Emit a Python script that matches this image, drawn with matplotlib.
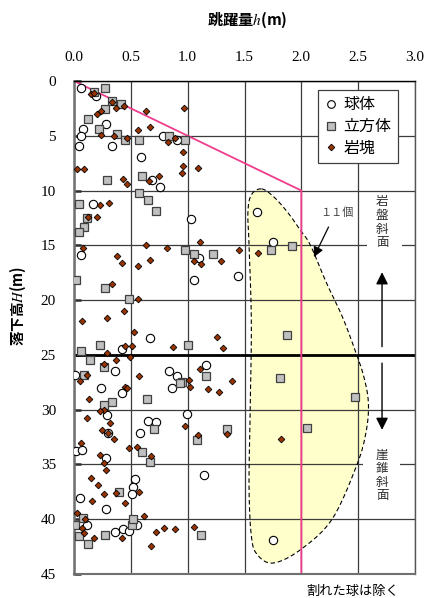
import numpy as np
import matplotlib
matplotlib.use('Agg')
import matplotlib.pyplot as plt
from matplotlib.lines import Line2D
from matplotlib.patches import Polygon, Rectangle

plt.rcParams['font.family'] = ['Liberation Serif', 'Noto Sans CJK JP']
plt.rcParams['mathtext.fontset'] = 'stix'
CJK = ['Noto Sans CJK JP', 'Liberation Serif']

# ---------------- data ----------------
sphere_h = [0.06, 0.19, 0.28, 0.08, 0.06, 0.04, 0.33, 0.59, 0.78, 0.91, 0.69, 0.76, 0.17,
            1.03, 1.10, 1.06, 1.44, 1.61, 1.75, 1.75, 1.16, 0.99, 1.14,
            0.06, 0.67, 0.42, 0.36, 0.01, 0.84, 0.91, 0.86, 0.24, 0.42, 0.29, 0.65, 0.72,
            0.58, 0.30, 0.02, 0.07, 0.28, 0.54, 0.52, 0.51, 0.05, 0.28, 0.11, 0.36, 0.43,
            0.48, 0.55]
sphere_H = [0.6, 1.4, 3.9, 4.4, 5.0, 5.9, 5.9, 6.9, 5.0, 5.4, 9.0, 9.7, 11.2,
            12.6, 16.2, 18.2, 17.8, 12.0, 14.7, 41.9, 25.9, 30.4, 36.0,
            15.9, 23.5, 24.5, 26.5, 26.8, 26.5, 26.9, 28.0, 28.0, 28.5, 30.5, 31.0, 31.1,
            32.1, 32.1, 33.8, 33.7, 34.4, 36.3, 37.1, 37.7, 38.1, 39.1, 40.5, 41.2, 40.9,
            41.1, 40.5]

cube_h = [0.27, 0.18, 0.33, 0.41, 0.27, 0.12, 0.22, 0.38, 0.45, 0.57, 0.84, 0.98, 0.29,
          0.60, 0.57, 0.65, 0.04, 0.72, 0.11, 0.09, 0.04, 0.02, 0.27, 0.48,
          0.98, 1.06, 1.22, 1.73, 1.92, 1.87, 1.81, 2.05, 2.47,
          1.00, 1.16, 0.95, 1.08, 1.35, 1.12,
          0.06, 0.23, 0.14, 0.26, 0.09, 0.93, 0.64, 0.33, 0.26, 0.70, 0.60, 0.67, 0.40,
          0.08, 0.01, 0.04, 0.12, 0.27, 0.51, 0.52]
cube_H = [0.6, 1.0, 1.8, 2.1, 2.6, 3.5, 4.4, 4.8, 5.4, 5.4, 5.0, 5.4, 9.0,
          8.7, 10.2, 10.9, 11.2, 11.9, 12.5, 13.3, 13.8, 18.2, 18.9, 19.9,
          15.4, 15.8, 15.8, 15.4, 15.1, 23.2, 27.1, 31.7, 28.8,
          24.1, 26.9, 27.5, 32.8, 31.8, 41.4,
          24.6, 24.1, 25.5, 26.1, 26.8, 27.6, 29.0, 29.3, 29.6, 31.8, 33.9, 34.8, 37.5,
          39.9, 40.5, 41.5, 42.3, 41.4, 40.5, 40.0]

rock_h = [0.15, 0.18, 0.33, 0.37, 0.44, 0.24, 0.20, 0.63, 0.97, 0.56, 0.67, 0.24, 0.35,
          0.47, 0.83, 0.89, 0.96, 0.96, 0.95, 1.09, 0.03, 0.09, 0.43, 0.47, 0.66, 0.75,
          0.23, 0.31,
          1.11, 1.06, 1.12, 1.29, 1.45, 1.62, 1.82, 1.26, 1.31, 1.11, 1.01, 1.02, 1.18,
          1.28, 1.39, 0.98, 1.09, 1.35, 1.06,
          0.12, 0.20, 0.08, 0.38, 0.42, 0.56, 0.63, 0.67, 0.82, 0.33, 0.56, 0.44, 0.29, 0.07,
          0.53, 0.29, 0.45, 0.51, 0.49, 0.87, 0.26, 0.37, 0.11, 0.05, 0.57, 0.45, 0.47,
          0.13, 0.26, 0.23, 0.11, 0.32, 0.25, 0.30, 0.35, 0.06, 0.48, 0.55, 0.23, 0.26,
          0.28, 0.68, 0.15, 0.21, 0.57, 0.37, 0.26, 0.16, 0.45, 0.03, 0.10, 0.07, 0.09,
          0.18, 0.42, 0.62, 0.72, 0.79, 0.89, 0.68]
rock_H = [1.2, 1.1, 1.9, 2.5, 2.3, 2.7, 3.0, 2.7, 2.5, 4.5, 4.2, 4.9, 5.0,
          5.2, 5.6, 5.2, 6.5, 7.8, 8.4, 7.9, 8.0, 8.0, 8.9, 9.4, 9.1, 8.7,
          11.3, 11.1,
          14.7, 16.4, 16.7, 16.4, 15.4, 15.7, 32.7, 23.4, 24.4, 26.3, 27.3, 27.9, 28.1,
          28.4, 27.4, 31.5, 32.3, 32.2, 40.7,
          12.4, 12.4, 15.2, 16.0, 16.6, 16.9, 15.0, 16.3, 15.2, 18.5, 19.9, 21.0, 21.6, 21.9,
          22.9, 24.8, 24.2, 24.2, 25.2, 24.3, 25.8, 25.5, 26.8, 27.4, 26.9, 27.9, 28.0,
          29.0, 30.0, 30.1, 30.8, 31.2, 31.9, 32.1, 32.7, 33.0, 33.5, 33.4, 34.1, 34.9,
          35.5, 34.2, 36.2, 36.9, 37.5, 37.6, 37.7, 38.3, 38.5, 39.4, 40.0, 40.8, 41.3,
          41.7, 41.7, 39.7, 41.2, 40.8, 40.9, 42.4]

# envelope line (design curve)
envelope_h = [0.0, 2.0, 2.0]
envelope_H = [0.0, 10.0, 45.0]

# outline of the highlighted region (11 items)
region_h = [1.65, 1.76, 1.88, 1.99, 2.08, 2.22, 2.36, 2.47, 2.55, 2.59, 2.57, 2.49, 2.27,
            1.99, 1.75, 1.61, 1.56, 1.54, 1.55, 1.56, 1.54, 1.53, 1.56]
region_H = [9.85, 10.6, 12.0, 13.6, 15.0, 18.4, 21.5, 24.5, 27.0, 29.4, 32.0, 35.0, 40.0,
            42.8, 44.0, 43.2, 41.5, 37.0, 30.0, 22.0, 15.0, 12.0, 10.4]

xticks = [0.0, 0.5, 1.0, 1.5, 2.0, 2.5, 3.0]
yticks = [0, 5, 10, 15, 20, 25, 30, 35, 40, 45]
legend_labels = ['球体', '立方体', '岩塊']


def closed_spline(xs, ys, n=24):
    P = np.column_stack([xs, ys])
    N = len(P)
    t = np.linspace(0, 1, n, endpoint=False)[:, None]
    out = []
    for i in range(N):
        p0, p1, p2, p3 = P[(i - 1) % N], P[i], P[(i + 1) % N], P[(i + 2) % N]
        out.append(0.5 * (2 * p1 + (-p0 + p2) * t + (2 * p0 - 5 * p1 + 4 * p2 - p3) * t ** 2
                          + (-p0 + 3 * p1 - 3 * p2 + p3) * t ** 3))
    return np.vstack(out)


fig = plt.figure(figsize=(4.24, 5.98), dpi=100)
ax = fig.add_axes([74 / 424, 1 - 574 / 598, 341 / 424, 493 / 598])
ax.set_xlim(0, 3)
ax.set_ylim(45, 0)

ax.xaxis.tick_top()
ax.set_xticks(xticks)
ax.set_xticklabels([f'{v:.1f}' for v in xticks], fontsize=11)
ax.set_yticks(yticks)
ax.set_yticklabels([str(v) for v in yticks], fontsize=11)
ax.tick_params(axis='x', length=0, pad=12)
ax.tick_params(axis='y', direction='in', length=5, width=1.8, color='#303030', pad=13)

ax.grid(True, color='#3c3c3c', lw=0.9, zorder=1)
ax.set_axisbelow(True)
ax.axhline(25, color='black', lw=2.0, zorder=1.2)
ax.spines['top'].set_color('black'); ax.spines['top'].set_linewidth(1.0)
ax.spines['left'].set_color('#707070'); ax.spines['left'].set_linewidth(1.8)
ax.spines['bottom'].set_color('#707070'); ax.spines['bottom'].set_linewidth(1.5)
ax.spines['right'].set_color('#555555'); ax.spines['right'].set_linewidth(1.0)

# highlighted region
pts = closed_spline(region_h, region_H)
ax.add_patch(Polygon(pts, closed=True, facecolor='#FFFFCC', edgecolor='none', zorder=0.5))
ax.add_patch(Polygon(pts, closed=True, facecolor='none', edgecolor='black', lw=0.8,
                     ls=(0, (4, 2.5)), zorder=1.5))

# envelope
ax.plot(envelope_h, envelope_H, color='#F03C8C', lw=1.3, zorder=2)

# markers
ax.plot(sphere_h, sphere_H, ls='none', marker='o', ms=6.0, mfc='white', mec='black',
        mew=0.8, zorder=3)
ax.plot(cube_h, cube_H, ls='none', marker='s', ms=6.0, mfc='#C0C0C0', mec='#404040',
        mew=0.9, zorder=3.1)
ax.plot(rock_h, rock_H, ls='none', marker='D', ms=3.4, mfc='#993300', mec='black',
        mew=0.6, zorder=3.2)

# annotations
ax.text(2.31, 12.0, '１１個', family=CJK, fontsize=8, color='#404040', ha='center',
        va='center', zorder=4)
ax.annotate('', xy=(2.10, 16.3), xytext=(2.25, 13.1),
            arrowprops=dict(arrowstyle='-|>', color='black', lw=0.9, mutation_scale=15),
            zorder=4)

ax.add_patch(Rectangle((2.58, 11.0), 0.31, 5.0, facecolor='white', edgecolor='none', zorder=1.6))
ax.text(2.71, 12.9, '岩\n盤\n斜\n面', family=CJK, fontsize=9, color='#303030',
        ha='center', va='center', linespacing=1.06, zorder=4)
ax.add_patch(Rectangle((2.54, 33.2), 0.33, 5.6, facecolor='white', edgecolor='none', zorder=1.6))
ax.text(2.71, 36.0, '崖\n錐\n斜\n面', family=CJK, fontsize=9, color='#303030',
        ha='center', va='center', linespacing=1.06, zorder=4)

ax.annotate('', xy=(2.71, 17.2), xytext=(2.71, 24.5),
            arrowprops=dict(arrowstyle='-|>', color='black', lw=1.0, mutation_scale=18),
            zorder=4)
ax.annotate('', xy=(2.71, 32.1), xytext=(2.71, 25.5),
            arrowprops=dict(arrowstyle='-|>', color='black', lw=1.0, mutation_scale=18),
            zorder=4)

# legend
handles = [
    Line2D([], [], ls='none', marker='o', ms=5.5, mfc='white', mec='black', mew=0.8),
    Line2D([], [], ls='none', marker='s', ms=6.0, mfc='#C0C0C0', mec='#404040', mew=0.9),
    Line2D([], [], ls='none', marker='D', ms=3.4, mfc='#993300', mec='black', mew=0.6),
]
leg = ax.legend(handles, legend_labels, loc='upper right', bbox_to_anchor=(0.950, 0.9817),
                borderaxespad=0, frameon=True, fancybox=False, framealpha=1,
                edgecolor='#404040', handlelength=0.8, handletextpad=0.4,
                labelspacing=0.3, borderpad=0.4, prop={'family': CJK, 'size': 11.5})
leg.get_frame().set_linewidth(0.9)
leg.set_zorder(5)

# titles
fig.text(247 / 424, 1 - 20 / 598, '跳躍量$h$(m)', family=CJK, fontsize=11, weight='bold',
         ha='center', va='center')
fig.text(18 / 424, 1 - 306 / 598, '落下高$H$(m)', family=CJK, fontsize=10.5, weight='bold',
         ha='center', va='center', rotation=90)
fig.text(353 / 424, 1 - 591 / 598, '割れた球は除く', family=CJK, fontsize=9.5,
         ha='center', va='center')

fig.savefig('out.png', dpi=100)
